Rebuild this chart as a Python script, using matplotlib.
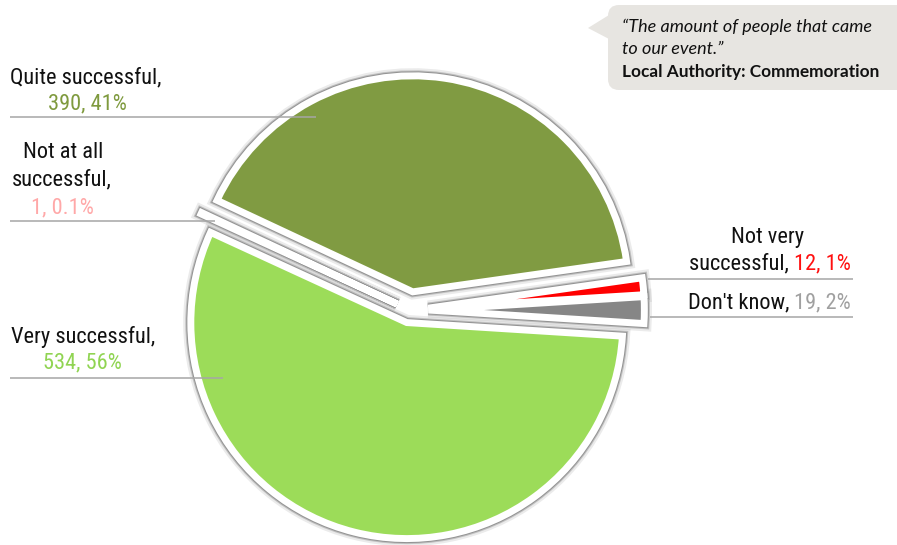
import matplotlib
matplotlib.use("Agg")
import matplotlib.pyplot as plt
from matplotlib import font_manager
from matplotlib.font_manager import FontProperties
from matplotlib.patches import Wedge, FancyBboxPatch, Polygon

# Survey responses: how successful was the event
categories = ["Don't know", "Not very successful", "Quite successful",
              "Not at all successful", "Very successful"]
counts = [19, 12, 390, 1, 534]
percent_labels = ["19, 2%", "12, 1%", "390, 41%", "1, 0.1%", "534, 56%"]
slice_colors = ["#868686", "#ff0000", "#809b42", "#f5f5f5", "#9cdc59"]
label_colors = ["#a0a0a0", "#ff1010", "#7f9a3e", "#ffa8a8", "#90d452"]
explode = [0.085, 0.085, 0.085, 0.065, 0.06]   # fraction of the radius

quote_lines = ["\u201cThe amount of people that came", "to our event.\u201d"]
quote_source = "Local Authority: Commemoration"

W, H = 897, 545
fig = plt.figure(figsize=(W / 100, H / 100), dpi=100)
ax = fig.add_axes([0, 0, 1, 1])
renderer = fig.canvas.get_renderer()

def Y(ypx):
    return H - ypx

cx, cy, R = 410, 310, 216
wedges, _ = ax.pie(counts, colors=slice_colors, explode=[e * R for e in explode],
                   startangle=-3.6, counterclock=True, center=(cx, Y(cy)), radius=R,
                   wedgeprops=dict(edgecolor="white", linewidth=5, zorder=3))
ax.set_xlim(0, W)
ax.set_ylim(0, H)
ax.set_aspect("equal")
ax.axis("off")

# soft grey outline behind each white-edged slice
for w in wedges:
    for lw, col, a in [(11, "#b0b0b0", 0.25), (8, "#a0a0a0", 0.55), (6.5, "#858585", 0.75)]:
        ax.add_patch(Wedge(w.center, w.r, w.theta1, w.theta2, facecolor="none",
                           edgecolor=col, linewidth=lw, alpha=a, zorder=2))

# pick a narrow sans face if one is available
def pick_font():
    for fam, stretch in [("Liberation Sans Narrow", "normal"),
                         ("Roboto Condensed", "normal"),
                         ("DejaVu Sans", "condensed")]:
        try:
            path = font_manager.findfont(FontProperties(family=fam, stretch=stretch),
                                         fallback_to_default=False)
        except Exception:
            continue
        low = path.lower()
        if "narrow" in low or "condensed" in low:
            return dict(family=fam, stretch=stretch)
    return dict(family="Liberation Sans", stretch="normal")

lab_font = pick_font()

def text_width(s, **kw):
    t = ax.text(0, 0, s, **kw)
    w = t.get_window_extent(renderer).width
    t.remove()
    return w

w17 = text_width("Quite successful,", fontsize=17, **lab_font)
FS = min(18, 17 * 152 / w17)
lab = dict(fontsize=FS, **lab_font)

line_col = "#a6a6a6"

def hline(y, x0, x1):
    ax.plot([x0, x1], [Y(y), Y(y)], color=line_col, lw=1.1, zorder=5,
            solid_capstyle="butt")

def ctext(x, y, s, col):
    ax.text(x, Y(y), s, ha="center", va="center", color=col, zorder=6, **lab)

# left labels
ctext(86, 78, "Quite successful,", "#111111")
ctext(87, 104, percent_labels[2], label_colors[2])
hline(117, 10, 316)

ctext(63, 152, "Not at all", "#111111")
ctext(62, 180, "successful,", "#111111")
ctext(62, 208, percent_labels[3], label_colors[3])
hline(221, 10, 215)

ctext(83, 337, "Very successful,", "#111111")
ctext(82, 363, percent_labels[4], label_colors[4])
hline(378, 10, 223)

# right labels (two-colour lines, right aligned)
inv = ax.transData.inverted()

def two_colour(x_right, y, black, coloured, col):
    t = ax.text(x_right, Y(y), coloured, ha="right", va="center",
                color=col, zorder=6, **lab)
    bb = t.get_window_extent(renderer)
    x_left = inv.transform((bb.x0, bb.y0))[0]
    ax.text(x_left, Y(y), black, ha="right", va="center",
            color="#111111", zorder=6, **lab)

ctext(768, 238, "Not very", "#111111")
two_colour(851, 264, "successful, ", percent_labels[1], label_colors[1])
hline(279, 648, 853)
two_colour(851, 303, "Don't know, ", percent_labels[0], label_colors[0])
hline(317, 650, 853)

# quote callout
box_col = "#e7e5e1"
ax.add_patch(FancyBboxPatch((608, Y(90)), 320, 85,
                            boxstyle="round,pad=0,rounding_size=11",
                            facecolor=box_col, edgecolor="none", zorder=4))
ax.add_patch(Polygon([(609, Y(15)), (588, Y(28)), (609, Y(39))],
                     closed=True, facecolor=box_col, edgecolor="none", zorder=4))
qfam = ["Lato", "Open Sans", "DejaVu Sans"]
wq = text_width(quote_lines[0], fontsize=11, family=qfam, style="italic")
QS = min(13, 11 * 254 / wq)
wb = text_width(quote_source, fontsize=11, family=qfam, weight="bold")
QB = min(13, 11 * 255 / wb)
ax.text(622, Y(27), quote_lines[0], ha="left", va="center", fontsize=QS,
        family=qfam, style="italic", color="#111111", zorder=6)
ax.text(622, Y(49), quote_lines[1], ha="left", va="center", fontsize=QS,
        family=qfam, style="italic", color="#111111", zorder=6)
ax.text(622, Y(72), quote_source, ha="left", va="center", fontsize=QB,
        family=qfam, weight="bold", color="#111111", zorder=6)

fig.savefig("out.png", dpi=100)
